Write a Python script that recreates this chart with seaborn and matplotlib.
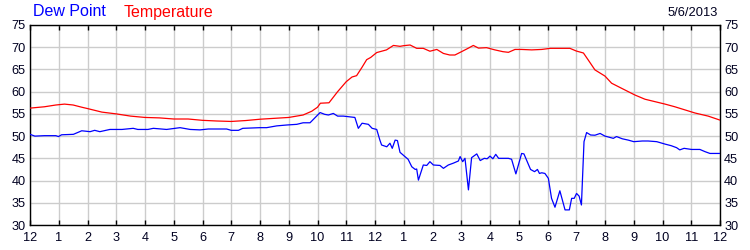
import matplotlib
matplotlib.use("Agg")
import matplotlib.pyplot as plt
import seaborn as sns
import pandas as pd

temp_hours = [0.0, 0.5, 0.9, 1.2, 1.5, 1.8, 2.0, 2.5, 3.0, 3.5, 4.0, 4.5, 5.0, 5.5, 6.0, 6.5,
              7.0, 7.5, 8.0, 8.5, 9.0, 9.5, 9.8, 10.0, 10.1, 10.4, 10.7, 11.0, 11.2, 11.36,
              11.55, 11.71, 11.85, 12.06, 12.4, 12.64, 12.87, 13.0, 13.22, 13.45, 13.68,
              13.91, 14.15, 14.38, 14.6, 14.78, 15.01, 15.25, 15.42, 15.6, 15.88, 16.17,
              16.45, 16.64, 16.87, 17.1, 17.45, 17.8, 18.1, 18.5, 18.78, 19.0, 19.25, 19.42,
              19.65, 20.0, 20.23, 20.58, 21.04, 21.39, 21.74, 22.09, 22.43, 22.78, 23.13,
              23.59, 24.0]
temp_vals = [56.3, 56.6, 57.0, 57.2, 57.0, 56.5, 56.2, 55.4, 55.0, 54.5, 54.2, 54.1, 53.85,
             53.85, 53.55, 53.4, 53.3, 53.5, 53.8, 54.0, 54.2, 54.75, 55.6, 56.5, 57.4, 57.5,
             60.0, 62.25, 63.3, 63.6, 65.5, 67.2, 67.7, 68.8, 69.4, 70.4, 70.2, 70.35, 70.5,
             69.75, 69.75, 69.1, 69.5, 68.6, 68.25, 68.25, 69.0, 69.8, 70.4, 69.8, 69.9,
             69.4, 69.0, 68.85, 69.5, 69.5, 69.4, 69.5, 69.75, 69.75, 69.75, 69.15, 68.7,
             67.1, 64.9, 63.5, 61.9, 60.75, 59.25, 58.3, 57.75, 57.2, 56.6, 55.9, 55.2,
             54.5, 53.6]

dew_hours = [0.0, 0.17, 0.5, 0.9, 0.99, 1.1, 1.51, 1.8, 2.09, 2.25, 2.43, 2.78, 3.2, 3.59,
             3.75, 4.1, 4.29, 4.75, 5.22, 5.57, 5.91, 6.2, 6.84, 7.0, 7.25, 7.4, 8.0, 8.23,
             8.58, 8.93, 9.28, 9.5, 9.74, 10.09, 10.25, 10.38, 10.55, 10.7, 10.9, 11.3,
             11.42, 11.55, 11.77, 11.9, 12.06, 12.17, 12.23, 12.41, 12.52, 12.6, 12.7, 12.78,
             12.87, 13.04, 13.15, 13.28, 13.4, 13.45, 13.51, 13.68, 13.8, 13.91, 14.03,
             14.26, 14.38, 14.55, 14.72, 14.9, 14.96, 15.05, 15.13, 15.25, 15.36, 15.54,
             15.66, 15.8, 15.9, 16.0, 16.1, 16.2, 16.3, 16.64, 16.75, 16.9, 17.1, 17.18,
             17.41, 17.55, 17.65, 17.72, 17.8, 17.91, 18.03, 18.14, 18.26, 18.43, 18.61,
             18.76, 18.84, 18.93, 19.01, 19.1, 19.18, 19.27, 19.36, 19.5, 19.65, 19.83, 20.0,
             20.29, 20.4, 20.6, 20.81, 21.0, 21.3, 21.5, 21.8, 22.09, 22.3, 22.49, 22.6,
             22.75, 23.01, 23.3, 23.48, 23.65, 24.0]
dew_vals = [50.4, 50.0, 50.1, 50.1, 49.9, 50.3, 50.4, 51.2, 51.0, 51.3, 51.0, 51.5, 51.5,
            51.75, 51.5, 51.5, 51.75, 51.5, 51.9, 51.5, 51.4, 51.6, 51.6, 51.3, 51.3, 51.75,
            51.9, 51.9, 52.3, 52.5, 52.65, 53.0, 53.0, 55.3, 54.9, 54.75, 55.1, 54.5, 54.5,
            54.2, 51.75, 52.9, 52.65, 51.75, 51.5, 49.1, 48.0, 47.6, 48.4, 47.25, 49.1, 49.0,
            46.35, 45.4, 44.8, 43.1, 42.5, 42.6, 40.1, 43.5, 43.4, 44.25, 43.5, 43.4, 42.75,
            43.5, 43.9, 44.4, 45.4, 44.25, 45.0, 37.9, 45.15, 46.0, 44.5, 45.0, 44.9, 45.5,
            44.9, 45.9, 45.0, 45.0, 44.8, 41.5, 46.1, 46.0, 42.5, 42.0, 42.5, 41.6, 41.75,
            41.6, 40.5, 36.0, 34.0, 37.7, 33.4, 33.4, 36.0, 36.0, 37.1, 36.5, 34.5, 48.75,
            50.8, 50.25, 50.2, 50.6, 50.0, 49.5, 49.9, 49.4, 49.1, 48.75, 48.9, 48.9, 48.75,
            48.2, 47.85, 47.4, 46.9, 47.25, 47.0, 47.0, 46.5, 46.1, 46.1]

x_tick_labels = ["12", "1", "2", "3", "4", "5", "6", "7", "8", "9", "10", "11",
                 "12", "1", "2", "3", "4", "5", "6", "7", "8", "9", "10", "11", "12"]
y_ticks = [30, 35, 40, 45, 50, 55, 60, 65, 70, 75]
series_names = ["Dew Point", "Temperature"]
date_label = "5/6/2013"

sns.set_style("white")
plt.rcParams["font.family"] = ["Liberation Sans", "DejaVu Sans"]

df = pd.concat([
    pd.DataFrame({"hour": dew_hours, "value": dew_vals, "series": "Dew Point"}),
    pd.DataFrame({"hour": temp_hours, "value": temp_vals, "series": "Temperature"}),
])

fig = plt.figure(figsize=(7.5, 2.5), dpi=100)
ax = fig.add_axes([30 / 750, 1 - 225 / 250, 690 / 750, 200 / 250])

sns.lineplot(data=df, x="hour", y="value", hue="series",
             palette={"Dew Point": "#0000ff", "Temperature": "#ff0000"},
             estimator=None, sort=False, linewidth=0.9, legend=False, ax=ax, zorder=3)

ax.set_xlim(0, 24)
ax.set_ylim(30, 75)
ax.set_xticks(range(25))
ax.set_xticklabels(x_tick_labels)
ax.set_yticks(y_ticks)
ax.set_xlabel("")
ax.set_ylabel("")
ax.grid(True, color="#cccccc", linewidth=1.0, zorder=0)
ax.set_axisbelow(True)
for s in ax.spines.values():
    s.set_color("black")
    s.set_linewidth(1.0)

ax.tick_params(axis="x", direction="in", length=3.5, width=1, color="black",
               top=True, bottom=True, labelsize=9.2, pad=5, labelcolor="#000020")
ax.tick_params(axis="y", length=0, left=True, right=True, labelleft=True,
               labelright=True, labelsize=9.2, pad=3, labelcolor="#000020")

fig.text(33 / 750, 1 - 12 / 250, series_names[0], color="#0000ff", fontsize=11.5,
         ha="left", va="center")
fig.text(124 / 750, 1 - 12 / 250, series_names[1], color="#ff0000", fontsize=11.5,
         ha="left", va="center")
fig.text(718 / 750, 1 - 13 / 250, date_label, color="#000020", fontsize=9.3,
         ha="right", va="center")

fig.savefig("out.png", dpi=100)
